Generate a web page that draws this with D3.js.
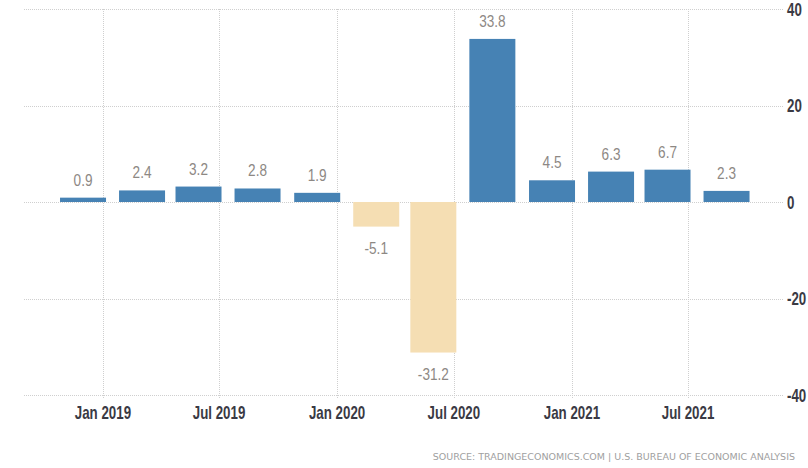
<!DOCTYPE html>
<html>
<head>
<meta charset="utf-8">
<script src="https://cdn.jsdelivr.net/npm/d3@7"></script>
<style>
  html, body { margin: 0; padding: 0; background: #fff; }
  svg { display: block; }
</style>
</head>
<body>
<svg id="chart" width="808" height="468"></svg>
<script>
// Quarter-end dates (US GDP growth rate, QoQ annualized)
const quarters = ["2018-12-31","2019-03-31","2019-06-30","2019-09-30","2019-12-31","2020-03-31",
                  "2020-06-30","2020-09-30","2020-12-31","2021-03-31","2021-06-30","2021-09-30"];
const values = [0.9, 2.4, 3.2, 2.8, 1.9, -5.1, -31.2, 33.8, 4.5, 6.3, 6.7, 2.3];
const yTicks = [40, 20, 0, -20, -40];
const xTickDates = ["2019-01-01","2019-07-01","2020-01-01","2020-07-01","2021-01-01","2021-07-01"];
const sourceText = "SOURCE: TRADINGECONOMICS.COM | U.S. BUREAU OF ECONOMIC ANALYSIS";

(function () {
const parse = d3.timeParse("%Y-%m-%d");
const data = quarters.map((q, i) => ({ date: parse(q), value: values[i] }));

const svg = d3.select("#chart");
const pL = 24, pR = 783, pT = 9, pB = 395;

const x = d3.scaleTime()
  .domain([parse("2018-08-31"), parse("2021-11-26")])
  .range([pL, pR]);
const y = d3.scaleLinear().domain([-40, 40]).range([pB, pT]);

const font = "'Liberation Sans', Arial, sans-serif";

// horizontal grid
svg.append("g").selectAll("line").data(yTicks).join("line")
  .attr("x1", pL).attr("x2", pR)
  .attr("y1", d => Math.round(y(d)) + 0.5).attr("y2", d => Math.round(y(d)) + 0.5)
  .attr("stroke", "#cfcfcf").attr("stroke-width", 1).attr("stroke-dasharray", "1,1");

// vertical grid
svg.append("g").selectAll("line").data(xTickDates).join("line")
  .attr("x1", d => Math.round(x(parse(d))) + 0.5).attr("x2", d => Math.round(x(parse(d))) + 0.5)
  .attr("y1", pT).attr("y2", pB + 3)
  .attr("stroke", "#cfcfcf").attr("stroke-width", 1).attr("stroke-dasharray", "1,1");

// bars (centered one month before quarter end)
const center = d => x(d3.timeMonth.offset(d.date, -1));
const barW = 46;
svg.append("g").selectAll("rect").data(data).join("rect")
  .attr("x", d => center(d) - barW / 2)
  .attr("width", barW)
  .attr("y", d => y(Math.max(0, d.value)))
  .attr("height", d => Math.abs(y(d.value) - y(0)))
  .attr("fill", d => d.value >= 0 ? "#4682b4" : "#f5deb3");

// value labels (condensed)
svg.append("g").selectAll("text").data(data).join("text")
  .attr("transform", d => `translate(${center(d)},${d.value >= 0 ? y(d.value) - 12 : y(d.value) + 27.5}) scale(0.8,1)`)
  .attr("text-anchor", "middle")
  .attr("font-family", font)
  .attr("font-size", 17)
  .attr("fill", "#8d8884")
  .text(d => d.value.toFixed(1));

// x axis labels
svg.append("g").selectAll("text").data(xTickDates).join("text")
  .attr("transform", d => `translate(${x(parse(d))},419) scale(0.74,1)`)
  .attr("text-anchor", "middle")
  .attr("font-family", font)
  .attr("font-size", 18)
  .attr("font-weight", "bold")
  .attr("fill", "#3a3a44")
  .text(d => d3.timeFormat("%b %Y")(parse(d)));

// y axis labels (right)
svg.append("g").selectAll("text").data(yTicks).join("text")
  .attr("transform", d => `translate(787,${y(d) + 6.5}) scale(0.74,1)`)
  .attr("text-anchor", "start")
  .attr("font-family", font)
  .attr("font-size", 18)
  .attr("font-weight", "bold")
  .attr("fill", "#3a3a44")
  .text(d => d);

// source
svg.append("text")
  .attr("x", 795).attr("y", 460)
  .attr("text-anchor", "end")
  .attr("font-family", "'DejaVu Sans', sans-serif")
  .attr("font-size", 9.5)
  .attr("fill", "#a0a0a0")
  .text(sourceText);
})();
</script>
</body>
</html>
